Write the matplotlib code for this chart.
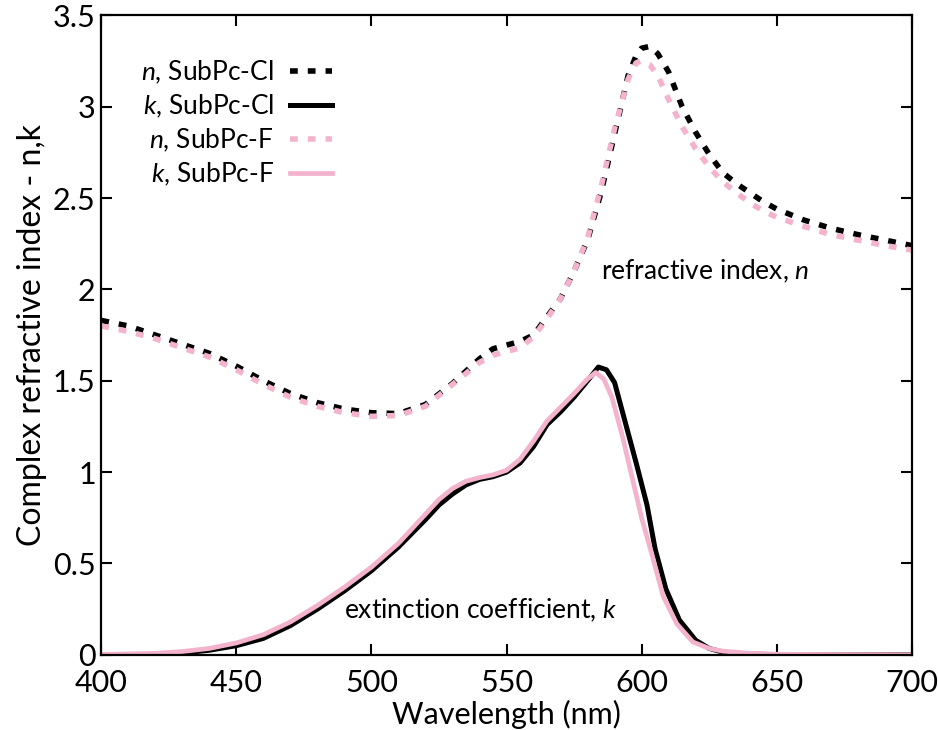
import numpy as np
import matplotlib
matplotlib.use("Agg")
import matplotlib.pyplot as plt
from matplotlib.ticker import FuncFormatter

# refractive index n (SubPc-Cl, SubPc-F)
wl_n = [400, 410, 420, 430, 440, 450, 460, 470, 480, 490, 500, 510, 520, 530,
        540, 545, 550, 555, 560, 565, 570, 575, 580, 585, 590, 595, 598, 600,
        603, 606, 610, 615, 620, 625, 630, 635, 640, 645, 650, 660, 670, 680,
        690, 700]
n_cl = [1.83, 1.80, 1.75, 1.70, 1.65, 1.58, 1.50, 1.43, 1.38, 1.345, 1.325,
        1.32, 1.37, 1.485, 1.62, 1.675, 1.695, 1.715, 1.75, 1.85, 1.95, 2.10,
        2.27, 2.53, 2.85, 3.17, 3.28, 3.32, 3.33, 3.29, 3.19, 3.00, 2.86, 2.74,
        2.64, 2.58, 2.53, 2.48, 2.44, 2.38, 2.335, 2.30, 2.27, 2.24]
n_f = [1.80, 1.77, 1.73, 1.68, 1.63, 1.56, 1.48, 1.41, 1.36, 1.325, 1.305,
       1.31, 1.36, 1.48, 1.60, 1.64, 1.66, 1.68, 1.74, 1.84, 1.95, 2.10, 2.28,
       2.56, 2.88, 3.15, 3.24, 3.25, 3.23, 3.17, 3.04, 2.89, 2.77, 2.67, 2.59,
       2.53, 2.475, 2.43, 2.395, 2.345, 2.30, 2.27, 2.24, 2.215]

# extinction coefficient k
wl_k_cl = [400, 420, 430, 440, 450, 460, 470, 480, 490, 500, 510, 520, 525,
           530, 535, 540, 545, 550, 555, 560, 565, 570, 575, 580, 584, 587,
           590, 594, 598, 602, 605, 609, 614, 620, 625, 630, 640, 650, 700]
k_cl = [0.0, 0.002, 0.01, 0.025, 0.05, 0.09, 0.16, 0.25, 0.35, 0.46, 0.59,
        0.74, 0.82, 0.88, 0.93, 0.96, 0.975, 1.00, 1.05, 1.14, 1.26, 1.33,
        1.41, 1.50, 1.575, 1.56, 1.49, 1.27, 1.05, 0.82, 0.58, 0.36, 0.19,
        0.08, 0.035, 0.015, 0.004, 0.001, 0.0]
wl_k_f = [400, 420, 430, 440, 450, 460, 470, 480, 490, 500, 510, 520, 525,
          530, 535, 540, 545, 550, 555, 560, 565, 570, 575, 580, 583, 586,
          589, 593, 596.5, 600, 604, 608, 613, 619, 625, 630, 640, 650, 700]
k_f = [0.002, 0.008, 0.018, 0.035, 0.065, 0.11, 0.18, 0.27, 0.37, 0.48, 0.61,
       0.77, 0.85, 0.91, 0.95, 0.97, 0.985, 1.01, 1.07, 1.17, 1.28, 1.355,
       1.43, 1.51, 1.545, 1.51, 1.41, 1.19, 0.97, 0.75, 0.54, 0.32, 0.17,
       0.07, 0.035, 0.02, 0.008, 0.003, 0.0]

PINK = "#f4b3cc"
DOT = (0, (1.4, 1.8))

plt.rcParams.update({"font.family": "Lato", "font.size": 19,
                     "mathtext.fontset": "custom", "mathtext.rm": "Lato",
                     "mathtext.it": "Lato:italic"})

fig = plt.figure(figsize=(9.38, 7.30), dpi=100, facecolor="white")
ax = fig.add_axes([0.108, 0.103, 0.864, 0.876])

ax.plot(wl_n, n_cl, color="black", lw=4, ls=DOT, label=r"$\it{n}$, SubPc-Cl")
ax.plot(wl_k_cl, k_cl, color="black", lw=3.6, label=r"$\it{k}$, SubPc-Cl")
ax.plot(wl_n, n_f, color=PINK, lw=4, ls=DOT, label=r"$\it{n}$, SubPc-F")
ax.plot(wl_k_f, k_f, color=PINK, lw=3.4, label=r"$\it{k}$, SubPc-F")

ax.set_xlim(400, 700)
ax.set_ylim(0, 3.5)
ax.set_xticks(np.arange(400, 701, 50))
ax.set_yticks(np.arange(0, 3.51, 0.5))
ax.yaxis.set_major_formatter(FuncFormatter(lambda v, p: f"{v:g}"))
ax.tick_params(direction="in", length=8, width=1.5, top=True, right=True,
               labelsize=22)
ax.tick_params(axis="x", pad=10)
ax.tick_params(axis="y", pad=4)
for s in ax.spines.values():
    s.set_linewidth(1.6)

ax.set_xlabel("Wavelength (nm)", fontsize=22, labelpad=2)
ax.set_ylabel("Complex refractive index - n,k", fontsize=23, labelpad=4)

ax.text(585, 2.1, r"refractive index, $\it{n}$", fontsize=19, va="center")
ax.text(490, 0.245, r"extinction coefficient, $\it{k}$", fontsize=19,
        va="center")

ax.legend(loc="upper left", frameon=False, markerfirst=False, fontsize=19,
          handlelength=1.6, labelspacing=0.25, handletextpad=0.6,
          bbox_to_anchor=(0.02, 0.97))

fig.savefig("out.png", dpi=100, facecolor="white")
